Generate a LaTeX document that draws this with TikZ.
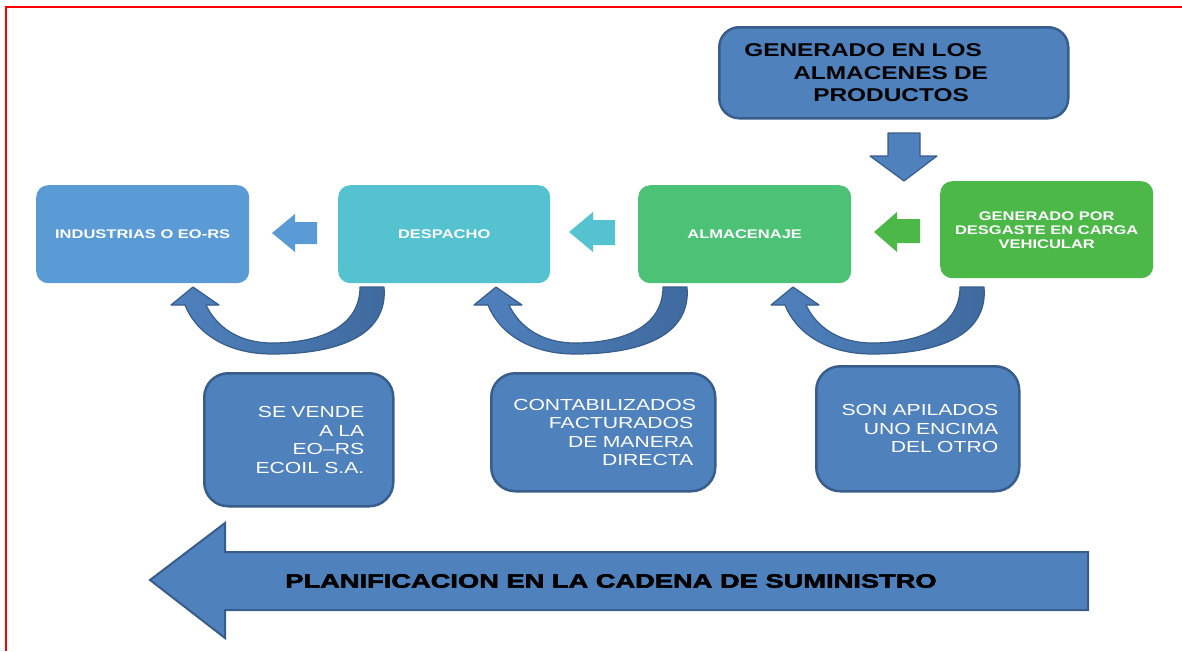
\documentclass[tikz,border=0pt]{standalone}
\usepackage{fontspec}
\setmainfont{Liberation Sans}[FakeStretch=1.32]
\newfontfamily\heavyfont{Liberation Sans}[UprightFont={* Bold},FakeStretch=1.42,FakeBold=3]
\definecolor{blueA}{HTML}{4F81BD}
\definecolor{bluedark}{HTML}{385D8A}
\definecolor{bluemid}{HTML}{3F6A9E}
\definecolor{lightblue}{HTML}{5B9BD5}
\definecolor{tealA}{HTML}{55C3CF}
\definecolor{greenA}{HTML}{4CC277}
\definecolor{greenB}{HTML}{4BB848}
\tikzset{
  flowbox/.style={anchor=north west, rounded corners=12pt, inner sep=0pt, text=white,
    font=\bfseries\fontsize{12.5}{14}\selectfont, align=center},
  topbox/.style={anchor=north west, rounded corners=20pt, fill=blueA, draw=bluedark,
    line width=2.5pt, inner ysep=0pt, inner xsep=25pt, text width=299pt, align=left,
    minimum height=91pt, text=black, font=\bfseries\fontsize{18.5}{22.5}\selectfont},
  notebox/.style={anchor=north west, rounded corners=24pt, fill=blueA, draw=bluedark,
    line width=2.5pt, inner ysep=0pt, align=right, text=white,
    font=\fontsize{16}{18.5}\selectfont},
  blockarrow/.style={draw=bluedark, line width=1.2pt, fill=blueA, line join=round},
  uturn/.pic={
    \path[draw=bluedark, line width=1.2pt, line join=round,
          left color=blueA, middle color=blueA, right color=bluemid]
      (384,287) .. controls (388,332) and (345,354) .. (272,354)
      .. controls (227,354) and (196,333) .. (185,305)
      -- (171,305) -- (193,287) -- (219,305) -- (206,305)
      .. controls (217,328) and (240,343) .. (272,343)
      .. controls (318,343) and (360,328) .. (360,287) -- cycle;
  }
}
\begin{document}
\begin{tikzpicture}[x=1pt,y=-1pt]
\useasboundingbox (0,0) rectangle (1182,651);
\draw[red, line width=2pt] (6,651) -- (6,7) -- (1182,7);

% top box and down arrow
\node[topbox] (top) at (718,26)
  {GENERADO EN LOS\\\hspace*{49pt}ALMACENES DE\\\hspace*{69pt}PRODUCTOS};
\path[blockarrow] (888,133) -- (920,133) -- (920,156) -- (937,156) -- (904,181)
  -- (870,156) -- (888,156) -- cycle;

% flow boxes
\node[flowbox, fill=lightblue, minimum width=213pt, minimum height=98pt] (ind) at (36,185) {INDUSTRIAS O EO-RS};
\node[flowbox, fill=tealA, minimum width=212pt, minimum height=98pt] (desp) at (338,185) {DESPACHO};
\node[flowbox, fill=greenA, minimum width=213pt, minimum height=98pt] (alm) at (638,185) {ALMACENAJE};
\node[flowbox, fill=greenB, minimum width=213pt, minimum height=97pt] (gen) at (940,181)
  {GENERADO POR\\DESGASTE EN CARGA\\VEHICULAR};

% small left arrows
\fill[lightblue] (317,222) -- (295,222) -- (295,214) -- (272,233) -- (295,252) -- (295,244) -- (317,244) -- cycle;
\fill[tealA] (615,220) -- (593,220) -- (593,212) -- (569,232) -- (593,252) -- (593,245) -- (615,245) -- cycle;
\fill[greenB] (920,219) -- (897,219) -- (897,212) -- (874,232) -- (897,252) -- (897,243) -- (920,243) -- cycle;

% curved arrows
\pic at (0,0) {uturn};
\pic at (303,0) {uturn};
\pic at (600,0) {uturn};

% note boxes
\node[notebox, inner xsep=29pt, text width=131pt, minimum height=133pt] (n1) at (203,372)
  {SE VENDE\\A LA\\EO–RS\\ECOIL S.A.};
\node[notebox, inner xsep=22pt, text width=180pt, minimum height=118pt] (n2) at (490,372)
  {CONTABILIZADOS\\FACTURADOS\\DE MANERA\\DIRECTA};
\node[notebox, inner xsep=21pt, text width=161pt, minimum height=125pt] (n3) at (815,365)
  {SON APILADOS\\UNO ENCIMA\\DEL OTRO};

% big bottom arrow
\path[draw=bluedark, line width=2pt, fill=blueA, line join=miter]
  (1088,552) -- (225,552) -- (225,523) -- (150,580) -- (225,638) -- (225,610) -- (1088,610) -- cycle;
\node[font=\heavyfont\fontsize{19.2}{22}\selectfont, text=black] (plan) at (611,581)
  {PLANIFICACION EN LA CADENA DE SUMINISTRO};
\end{tikzpicture}
\end{document}
